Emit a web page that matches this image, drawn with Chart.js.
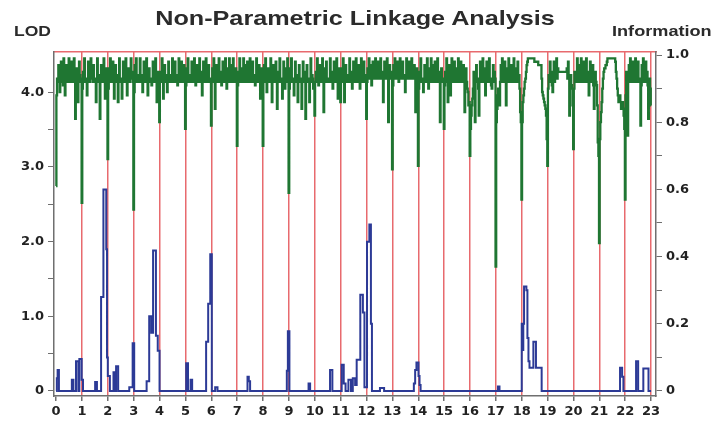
<!DOCTYPE html>
<html>
<head>
<meta charset="utf-8">
<script src="https://cdn.jsdelivr.net/npm/chart.js@4.4.1/dist/chart.umd.min.js"></script>
<style>
  body { margin: 0; background: #fff; font-family: "Liberation Sans", Arial, sans-serif; }
  #wrap { position: relative; width: 725px; height: 423px; }
  .lbl { position: absolute; font-weight: bold; color: #2b2b2b; white-space: nowrap; transform: scaleX(1.25); }
</style>
</head>
<body>
<div id="wrap">
  <canvas id="grafico" width="725" height="423"></canvas>
  <div class="lbl" style="left:0;width:710px;text-align:center;top:6px;font-size:21px;transform:scaleX(1.2);transform-origin:355px 0;">Non-Parametric Linkage Analysis</div>
  <div class="lbl" style="left:14px;top:23px;font-size:14px;transform-origin:0 0;">LOD</div>
  <div class="lbl" style="left:612px;top:23px;font-size:14.5px;transform-origin:0 0;">Information</div>
</div>
<script>
// eixo x: posicao no genoma (cromossomos 0..23)
const xTicks = [0,1,2,3,4,5,6,7,8,9,10,11,12,13,14,15,16,17,18,19,20,21,22,23];
const lodTicks = [0, 0.5, 1, 1.5, 2, 2.5, 3, 3.5, 4];
const infoTicks = [0, 0.1, 0.2, 0.3, 0.4, 0.5, 0.6, 0.7, 0.8, 0.9, 1.0];

// informacao: um valor a cada 0.025, uma linha por cromossomo
const infoStep = 0.025;
const information = [
  .61,.88,.93,.92,.97,.93,.89,.92,.98,.93,.94,.91,.99,.93,.88,.92,.97,.94,.93,.92,.99,.93,.95,.92,.98,.93,.92,.94,.99,.92,.81,.92,.96,.93,.86,.92,.98,.94,.93,.92,
  .56,.90,.95,.92,.99,.93,.93,.92,.88,.93,.98,.92,.92,.94,.99,.93,.94,.92,.97,.93,.93,.92,.86,.93,.99,.92,.94,.93,.81,.92,.97,.93,.93,.92,.99,.94,.87,.92,.96,.93,
  .69,.90,.96,.93,.99,.92,.93,.94,.98,.92,.87,.93,.97,.92,.94,.93,.86,.92,.99,.93,.93,.92,.87,.93,.98,.92,.94,.93,.99,.92,.88,.93,.96,.92,.92,.93,.99,.94,.95,.92,
  .54,.89,.97,.93,.99,.92,.94,.93,.92,.93,.99,.92,.93,.94,.89,.92,.98,.93,.95,.92,.99,.93,.88,.92,.96,.93,.93,.92,.91,.93,.98,.92,.94,.93,.99,.92,.86,.93,.95,.92,
  .80,.92,.95,.93,.99,.92,.87,.93,.97,.92,.93,.94,.89,.92,.98,.93,.94,.92,.92,.93,.99,.92,.95,.93,.98,.92,.93,.94,.91,.92,.99,.93,.94,.92,.98,.93,.95,.92,.97,.93,
  .78,.91,.96,.92,.99,.93,.94,.92,.93,.93,.98,.92,.95,.93,.99,.92,.91,.93,.97,.92,.94,.93,.99,.92,.95,.93,.88,.92,.98,.93,.93,.92,.99,.93,.94,.92,.97,.93,.93,.92,
  .79,.92,.96,.93,.99,.92,.84,.93,.97,.92,.93,.93,.99,.92,.95,.93,.91,.92,.98,.93,.94,.92,.99,.93,.90,.92,.96,.93,.99,.92,.93,.93,.97,.92,.99,.93,.94,.92,.96,.93,
  .73,.91,.95,.93,.99,.92,.96,.93,.94,.92,.99,.93,.97,.92,.92,.93,.98,.92,.95,.93,.99,.92,.96,.93,.98,.92,.94,.93,.91,.92,.99,.93,.95,.92,.97,.93,.87,.92,.96,.93,
  .73,.92,.97,.93,.99,.92,.89,.93,.96,.92,.93,.93,.99,.92,.86,.93,.97,.92,.94,.93,.98,.92,.84,.93,.95,.92,.99,.93,.93,.92,.87,.93,.98,.92,.90,.93,.96,.92,.99,.93,
  .59,.90,.96,.92,.99,.93,.93,.92,.88,.93,.98,.92,.94,.93,.86,.92,.97,.93,.93,.92,.84,.93,.98,.92,.95,.93,.81,.92,.97,.93,.93,.92,.86,.93,.99,.92,.94,.93,.90,.92,
  .82,.92,.95,.93,.99,.92,.91,.93,.97,.92,.94,.93,.99,.92,.83,.93,.96,.92,.98,.93,.93,.92,.92,.93,.99,.92,.95,.93,.90,.92,.98,.93,.94,.92,.99,.93,.87,.92,.96,.93,
  .86,.92,.96,.93,.99,.92,.86,.93,.97,.92,.94,.93,.93,.92,.99,.93,.95,.92,.90,.93,.98,.92,.93,.93,.99,.92,.94,.93,.97,.92,.90,.93,.99,.92,.95,.93,.98,.92,.94,.93,
  .81,.92,.96,.94,.99,.93,.97,.94,.91,.93,.98,.94,.96,.93,.99,.94,.94,.93,.98,.94,.97,.93,.99,.94,.95,.93,.86,.93,.98,.94,.96,.93,.99,.94,.80,.93,.97,.94,.95,.93,
  .66,.91,.97,.93,.99,.94,.95,.93,.98,.94,.92,.93,.99,.94,.96,.93,.98,.94,.94,.93,.89,.93,.99,.94,.96,.93,.98,.94,.93,.93,.99,.94,.95,.93,.97,.94,.83,.93,.96,.94,
  .67,.90,.95,.92,.99,.93,.93,.92,.89,.93,.97,.92,.94,.93,.99,.92,.90,.93,.96,.92,.99,.93,.94,.92,.97,.93,.98,.92,.92,.93,.99,.92,.95,.93,.80,.92,.96,.93,.93,.92,
  .78,.91,.95,.92,.99,.93,.86,.92,.97,.93,.88,.92,.99,.93,.94,.92,.98,.93,.96,.92,.93,.93,.99,.92,.95,.93,.98,.92,.94,.93,.97,.92,.83,.91,.96,.92,.90,.89,.85,.86,
  .70,.78,.82,.85,.87,.90,.95,.91,.80,.92,.97,.93,.93,.90,.82,.92,.98,.93,.94,.92,.99,.93,.96,.92,.88,.93,.98,.92,.95,.93,.99,.92,.93,.91,.90,.93,.97,.92,.95,.93,
  .37,.80,.84,.88,.90,.87,.85,.92,.97,.93,.99,.92,.94,.93,.98,.92,.85,.93,.96,.92,.99,.93,.93,.92,.97,.93,.95,.92,.99,.93,.96,.92,.92,.93,.98,.92,.94,.90,.83,.80,
  .57,.80,.86,.88,.90,.92,.93,.95,.97,.98,.99,.99,.99,.99,.99,.99,.99,.99,.99,.99,.98,.98,.98,.98,.98,.98,.97,.97,.97,.97,.97,.93,.89,.88,.87,.86,.85,.84,.82,.75,
  .67,.90,.94,.93,.98,.92,.95,.91,.89,.93,.98,.92,.93,.94,.99,.93,.96,.95,.95,.95,.95,.95,.95,.95,.95,.95,.95,.95,.95,.95,.96,.93,.98,.93,.82,.90,.94,.91,.90,.85,
  .72,.90,.95,.92,.92,.93,.99,.92,.97,.93,.94,.92,.99,.93,.96,.92,.98,.93,.93,.92,.99,.93,.95,.92,.88,.92,.98,.93,.94,.92,.97,.91,.84,.91,.95,.92,.91,.85,.74,.70,
  .44,.75,.80,.83,.86,.90,.93,.95,.96,.96,.97,.97,.98,.99,.99,.99,.99,.99,.99,.99,.99,.99,.99,.99,.99,.98,.95,.93,.90,.88,.86,.87,.88,.86,.84,.85,.86,.84,.82,.78,
  .57,.88,.95,.90,.76,.92,.97,.93,.99,.92,.93,.93,.98,.92,.94,.93,.99,.92,.96,.93,.98,.92,.93,.92,.79,.91,.97,.92,.99,.93,.94,.92,.98,.93,.95,.91,.81,.88,.93,.90,
  .85
];

// LOD em degraus: posicao onde o degrau comeca e valor
const lodPos = [0, 0.03, 0.06, 0.11, 0.61, 0.67, 0.77, 0.86, 0.90, 0.99, 1.04, 1.51, 1.58, 1.74, 1.83, 1.94, 1.97, 2.00, 2.08,
  2.22, 2.27, 2.32, 2.40, 2.83, 2.96, 3.02, 3.50, 3.60, 3.68, 3.75, 3.86, 3.93, 4.00, 5.03, 5.10, 5.20, 5.26,
  5.80, 5.88, 5.96, 6.02, 6.15, 6.24, 7.40, 7.45, 7.50, 8.92, 8.96, 9.02, 9.76, 9.82, 10.59, 10.68,
  11.04, 11.12, 11.19, 11.30, 11.40, 11.47, 11.56, 11.62, 11.76, 11.86, 11.92, 12.02, 12.11, 12.17, 12.21,
  12.52, 12.68, 13.83, 13.88, 13.93, 14.01, 14.05, 14.09, 17.08, 17.14,
  18.00, 18.04, 18.06, 18.09, 18.18, 18.22, 18.26, 18.30, 18.45, 18.55, 18.77,
  21.80, 21.88, 21.93, 22.42, 22.50, 22.70, 22.90, 23.00];
const lodVal = [0, 0.17, 0.28, 0, 0.15, 0, 0.40, 0, 0.43, 0.15, 0, 0.12, 0, 1.26, 2.70, 1.90, 0.45, 0.20, 0,
  0.25, 0, 0.33, 0, 0.05, 0.64, 0, 0.13, 1.00, 0.78, 1.88, 0.74, 0.54, 0, 0.37, 0, 0.15, 0,
  0.66, 1.17, 1.83, 0, 0.05, 0, 0.19, 0.13, 0, 0.27, 0.80, 0, 0.10, 0, 0.28, 0,
  0.35, 0.10, 0, 0.15, 0, 0.17, 0.08, 0.42, 1.29, 1.05, 0.05, 2.00, 2.23, 0.90, 0,
  0.04, 0, 0.10, 0.28, 0.38, 0.20, 0.08, 0, 0.06, 0,
  0.90, 0.55, 0.90, 1.40, 1.35, 0.71, 0.40, 0.31, 0.66, 0.31, 0,
  0.31, 0.19, 0, 0.40, 0, 0.30, 0, 0];

const VERMELHO = "#e86a6e";
const CINZA = "#6f6f6f";
const fonteEixo = { family: "DejaVu Sans, Liberation Sans, sans-serif", size: 13, weight: "bold" };

const ctx = document.getElementById("grafico").getContext("2d");
new Chart(ctx, {
  type: "line",
  data: {
    datasets: [{
      label: "LOD",
      data: lodPos.map((p, i) => ({ x: p, y: lodVal[i] })),
      yAxisID: "lod",
      borderColor: "#2c3a96",
      borderWidth: 2,
      stepped: "before",
      pointRadius: 0,
      fill: false
    }, {
      label: "Information",
      data: information.map((v, i) => ({ x: i * infoStep, y: v })),
      yAxisID: "info",
      borderColor: "#1f7632",
      borderWidth: 2.3,
      stepped: "middle",
      pointRadius: 0,
      fill: false
    }]
  },
  options: {
    responsive: false,
    animation: false,
    layout: { padding: { top: 52, left: 0, right: 0, bottom: 0 } },
    plugins: { legend: { display: false }, tooltip: { enabled: false } },
    scales: {
      x: {
        type: "linear",
        position: "bottom",
        min: -0.08,
        max: 23.19,
        afterBuildTicks: s => { s.ticks = xTicks.map(v => ({ value: v })); },
        afterFit: s => { s.height = 27; },
        ticks: { font: fonteEixo, color: "#222", padding: 3, maxRotation: 0, autoSkip: false },
        grid: {
          color: c => (c.tick && c.tick.value === 0) ? "rgba(0,0,0,0)" : VERMELHO,
          lineWidth: 1.5,
          tickColor: CINZA,
          tickLength: 5
        },
        border: { color: CINZA, width: 1.5 }
      },
      topo: {
        type: "linear",
        position: "top",
        min: -0.08,
        max: 23.19,
        afterFit: s => { s.height = 0; },
        ticks: { display: false },
        grid: { display: false },
        border: { color: VERMELHO, width: 1.5 }
      },
      lod: {
        type: "linear",
        position: "left",
        min: -0.067,
        max: 4.54,
        afterBuildTicks: s => { s.ticks = lodTicks.map(v => ({ value: v })); },
        afterFit: s => { s.width = 54; },
        ticks: {
          font: fonteEixo, color: "#222", padding: 4,
          callback: v => Number.isInteger(v) ? (v === 0 ? "0" : v.toFixed(1)) : ""
        },
        grid: { drawOnChartArea: false, color: CINZA, tickLength: 6 },
        border: { color: CINZA, width: 1.5 }
      },
      info: {
        type: "linear",
        position: "right",
        min: -0.015,
        max: 1.009,
        afterBuildTicks: s => { s.ticks = infoTicks.map(v => ({ value: v })); },
        afterFit: s => { s.width = 69; },
        ticks: {
          font: fonteEixo, color: "#222", padding: 4,
          callback: v => Math.round(v * 10) % 2 === 0 ? (v === 0 ? "0" : v.toFixed(1)) : ""
        },
        grid: { drawOnChartArea: false, color: CINZA, tickLength: 6 },
        border: { color: CINZA, width: 1.5 }
      }
    }
  }
});
</script>
</body>
</html>
